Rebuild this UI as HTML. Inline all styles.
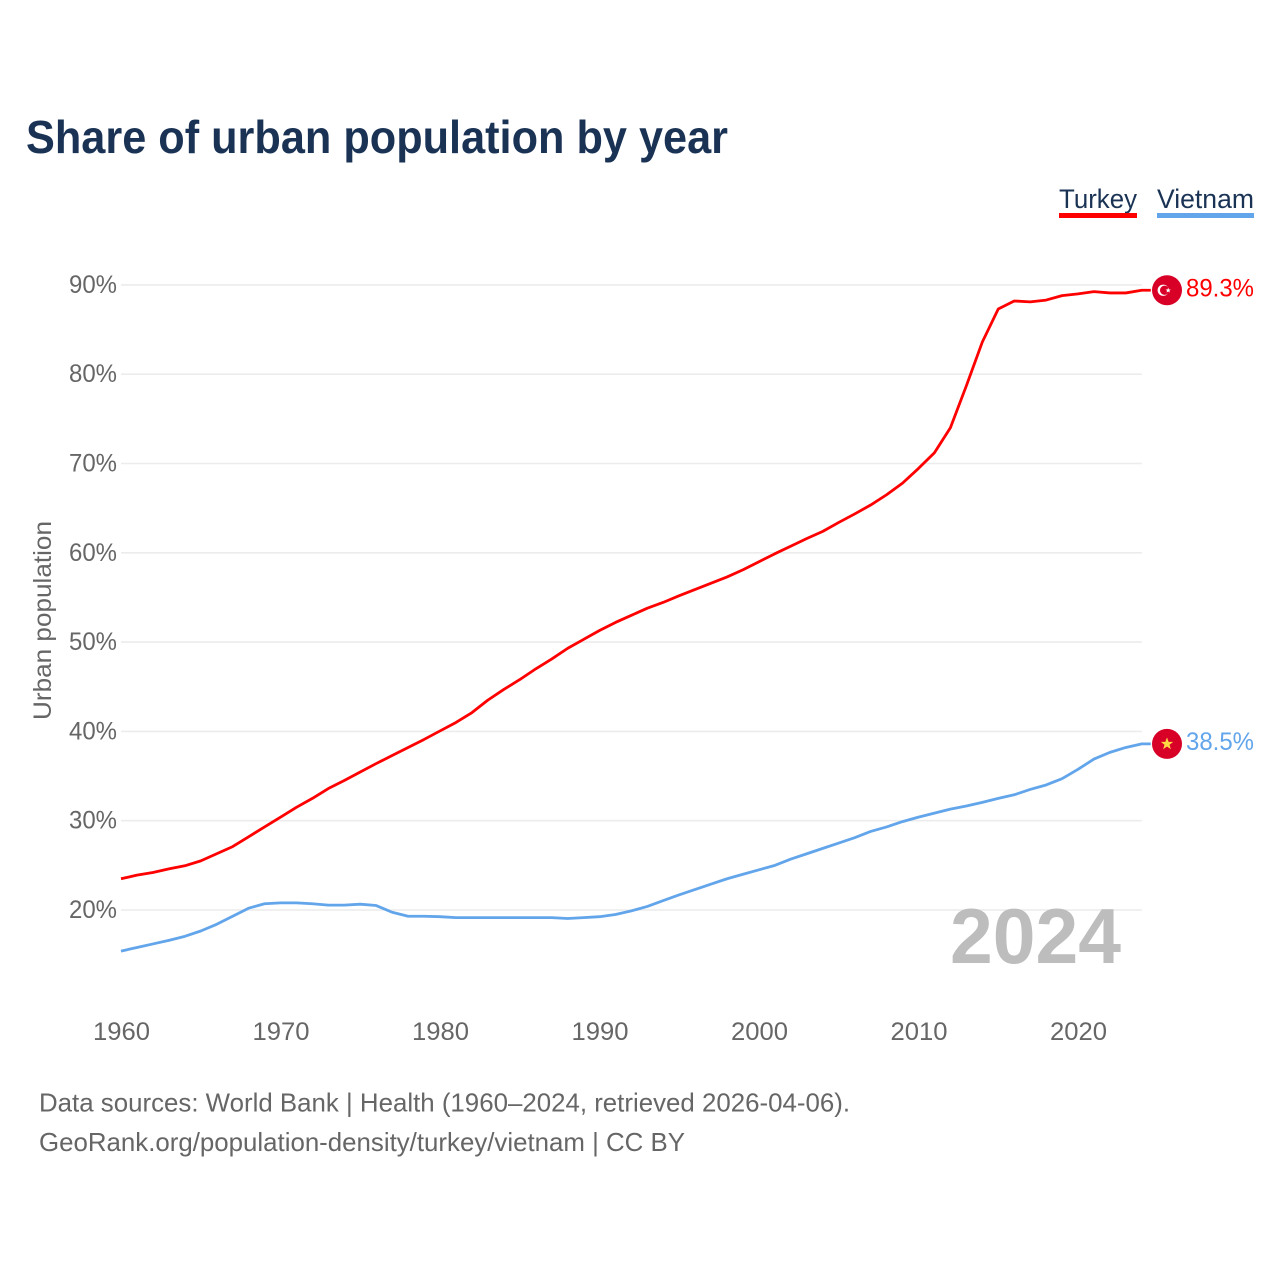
<!DOCTYPE html>
<html lang="en">
<head>
<meta charset="utf-8">
<title>Share of urban population by year</title>
<style>
html,body{margin:0;padding:0;background:#fff;width:1280px;height:1280px;overflow:hidden}
svg{display:block}
text{font-family:"Liberation Sans",sans-serif}
</style>
</head>
<body>
<svg id="chart" width="1280" height="1280" viewBox="0 0 1280 1280" xmlns="http://www.w3.org/2000/svg">
  <rect width="1280" height="1280" fill="#fff"/>
  <text x="26" y="153" font-size="46" font-weight="700" fill="#1a3355" textLength="702" lengthAdjust="spacingAndGlyphs">Share of urban population by year</text>

  <g>
    <text x="1059" y="208" font-size="27" fill="#1a3355" textLength="78" lengthAdjust="spacingAndGlyphs">Turkey</text>
    <rect x="1059" y="213" width="78" height="5" fill="#ff0000"/>
  </g>
  <g>
    <text x="1157" y="208" font-size="27" fill="#1a3355" textLength="97" lengthAdjust="spacingAndGlyphs">Vietnam</text>
    <rect x="1157" y="213" width="97" height="5" fill="#62a5ea"/>
  </g>

  <g id="grid"></g>
  <g id="yticks"></g>
  <g id="xticks"></g>

  <text transform="translate(51,720) rotate(-90)" font-size="25" fill="#666" textLength="199" lengthAdjust="spacingAndGlyphs">Urban population</text>
  <text x="950" y="963" font-size="78" font-weight="700" fill="#bdbdbd" textLength="171" lengthAdjust="spacingAndGlyphs">2024</text>

  <g id="series"></g>

  <g id="flag-turkey">
    <circle cx="0" cy="0" r="15" fill="#d80027"/>
    <circle cx="-3.8" cy="0" r="5.6" fill="#fff"/>
    <circle cx="-2.4" cy="0" r="4.6" fill="#d80027"/>
    <polygon points="1.2,-2.6 1.9,-0.7 3.9,-0.7 2.3,0.5 2.9,2.4 1.2,1.3 -0.5,2.4 0.1,0.5 -1.5,-0.7 0.5,-0.7" fill="#fff"/>
  </g>
  <g id="flag-vietnam">
    <circle cx="0" cy="0" r="15" fill="#d80027"/>
    <polygon points="0,-6.5 1.6,-2 6.2,-2 2.5,0.8 3.9,5.3 0,2.6 -3.9,5.3 -2.5,0.8 -6.2,-2 -1.6,-2" fill="#ffda44"/>
  </g>
  <text id="end-label-turkey" x="1186" y="296" font-size="25" fill="#ff0000" textLength="68" lengthAdjust="spacingAndGlyphs">89.3%</text>
  <text id="end-label-vietnam" x="1186" y="750" font-size="25" fill="#62a5ea" textLength="68" lengthAdjust="spacingAndGlyphs">38.5%</text>

  <text x="39" y="1111.5" font-size="26" fill="#666" textLength="811" lengthAdjust="spacingAndGlyphs">Data sources: World Bank | Health (1960–2024, retrieved 2026-04-06).</text>
  <text x="39" y="1151" font-size="26" fill="#666" textLength="646" lengthAdjust="spacingAndGlyphs">GeoRank.org/population-density/turkey/vietnam | CC BY</text>
</svg>
<script>
const startYear = 1960;
const yTickValues = [20, 30, 40, 50, 60, 70, 80, 90];
const xTickValues = [1960, 1970, 1980, 1990, 2000, 2010, 2020];
const turkeyValues = [
  23.5, 23.9, 24.2, 24.6, 24.95, 25.5, 26.3, 27.1, 28.2, 29.3,
  30.4, 31.5, 32.5, 33.6, 34.5, 35.45, 36.4, 37.3, 38.2, 39.1,
  40.05, 41.0, 42.1, 43.5, 44.7, 45.8, 47.0, 48.1, 49.3, 50.3,
  51.3, 52.2, 53.0, 53.8, 54.45, 55.2, 55.9, 56.6, 57.3, 58.1,
  59.0, 59.9, 60.75, 61.6, 62.4, 63.4, 64.35, 65.35, 66.5, 67.8,
  69.45, 71.2, 74.0, 78.7, 83.6, 87.3, 88.2, 88.1, 88.3, 88.8,
  89.0, 89.25, 89.1, 89.1, 89.4
];
const vietnamValues = [
  15.4, 15.8, 16.2, 16.6, 17.05, 17.65, 18.4, 19.3, 20.2, 20.7,
  20.8, 20.8, 20.7, 20.55, 20.55, 20.65, 20.5, 19.75, 19.3, 19.3,
  19.25, 19.15, 19.15, 19.15, 19.15, 19.15, 19.15, 19.15, 19.05, 19.15,
  19.25, 19.5, 19.9, 20.4, 21.05, 21.7, 22.3, 22.9, 23.5, 24.0,
  24.5, 25.0, 25.7, 26.3, 26.9, 27.5, 28.1, 28.8, 29.3, 29.9,
  30.4, 30.85, 31.3, 31.65, 32.05, 32.5, 32.9, 33.5, 34.0, 34.7,
  35.75, 36.9, 37.65, 38.2, 38.6
];

const SVG_NS = 'http://www.w3.org/2000/svg';
const xScale = year => 121 + (year - 1960) * 15.95;
const yScale = value => 910 - (value - 20) * 8.93;
const chartRight = xScale(2024);

const grid = document.getElementById('grid');
const yTicks = document.getElementById('yticks');
const xTicks = document.getElementById('xticks');
const seriesGroup = document.getElementById('series');

yTickValues.forEach(v => {
  const line = document.createElementNS(SVG_NS, 'line');
  
  
  line.setAttribute('x1', 121);
  line.setAttribute('x2', chartRight);
  line.setAttribute('y1', yScale(v));
  line.setAttribute('y2', yScale(v));
  line.setAttribute('stroke', '#ececec');
  line.setAttribute('stroke-width', 1.6);
  grid.appendChild(line);

  const label = document.createElementNS(SVG_NS, 'text');
  
  
  label.setAttribute('x', 69);
  label.setAttribute('y', yScale(v) + 8);
  label.setAttribute('font-size', 25);
  label.setAttribute('fill', '#666');
  label.setAttribute('textLength', 48);
  label.setAttribute('lengthAdjust', 'spacingAndGlyphs');
  label.textContent = v + '%';
  yTicks.appendChild(label);
});

xTickValues.forEach(y => {
  const label = document.createElementNS(SVG_NS, 'text');
  
  
  label.setAttribute('x', xScale(y) - 28);
  label.setAttribute('y', 1040);
  label.setAttribute('font-size', 25);
  label.setAttribute('fill', '#666');
  label.setAttribute('textLength', 57);
  label.setAttribute('lengthAdjust', 'spacingAndGlyphs');
  label.textContent = y;
  xTicks.appendChild(label);
});

function drawSeries(values, color, lineName, flagId, labelId) {
  const endY = yScale(values[values.length - 1]);
  const points = values.map((v, i) => xScale(startYear + i).toFixed(2) + ',' + yScale(v).toFixed(2));
  points.push((chartRight + 9).toFixed(2) + ',' + endY.toFixed(2));
  const line = document.createElementNS(SVG_NS, 'polyline');
  
  
  line.setAttribute('points', points.join(' '));
  line.setAttribute('fill', 'none');
  line.setAttribute('stroke', color);
  line.setAttribute('stroke-width', 2.8);
  line.setAttribute('stroke-linejoin', 'round');
  seriesGroup.appendChild(line);
  document.getElementById(flagId).setAttribute('transform', 'translate(1167,' + endY.toFixed(2) + ')');
  document.getElementById(labelId).setAttribute('y', (endY + 6).toFixed(2));
}

drawSeries(turkeyValues, '#ff0000', 'line-turkey', 'flag-turkey', 'end-label-turkey');
drawSeries(vietnamValues, '#62a5ea', 'line-vietnam', 'flag-vietnam', 'end-label-vietnam');
</script>
</body>
</html>
